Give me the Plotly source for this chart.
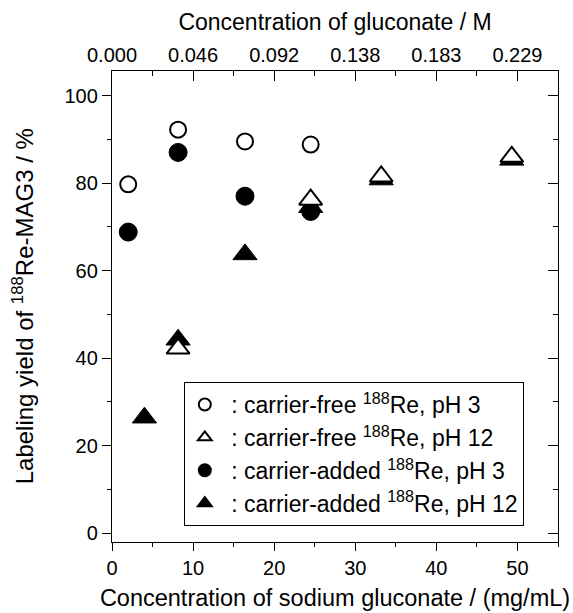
import plotly.graph_objects as go

# Data (sodium gluconate mg/mL vs labeling yield %)
cf_ph3_x = [2.0, 8.15, 16.4, 24.5]
cf_ph3_y = [79.7, 92.2, 89.5, 88.8]

cf_ph12_x = [8.15, 24.5, 33.2, 49.3]
cf_ph12_y = [42.2, 76.2, 81.5, 86.0]

ca_ph3_x = [2.0, 8.15, 16.4, 24.5]
ca_ph3_y = [68.8, 87.0, 77.0, 73.5]

ca_ph12_x = [4.0, 8.15, 16.4, 24.5, 33.2, 49.3]
ca_ph12_y = [26.4, 44.2, 63.7, 74.5, 80.8, 85.3]

top_tick_pos = [0, 10, 20, 30, 40, 50]
top_tick_text = ["0.000", "0.046", "0.092", "0.138", "0.183", "0.229"]

FONT = "Liberation Sans, Arial, sans-serif"
SUP = "<sup>188</sup>"

fig = go.Figure()

# drawing order: filled triangles, filled circles, open circles, open triangles
fig.add_trace(go.Scatter(
    x=ca_ph12_x, y=ca_ph12_y, mode="markers",
    name=f" : carrier-added {SUP}Re, pH 12", legendrank=4, legendgroup="d",
    marker=dict(symbol="triangle-up", size=21, color="black",
                line=dict(color="black", width=1))))
fig.add_trace(go.Scatter(
    x=ca_ph3_x, y=ca_ph3_y, mode="markers",
    name=f" : carrier-added {SUP}Re, pH 3", legendrank=3, legendgroup="c",
    marker=dict(symbol="circle", size=18, color="black",
                line=dict(color="black", width=1))))
fig.add_trace(go.Scatter(
    x=cf_ph3_x, y=cf_ph3_y, mode="markers",
    name=f" : carrier-free {SUP}Re, pH 3", legendrank=1, legendgroup="a",
    marker=dict(symbol="circle", size=16, color="white",
                line=dict(color="black", width=2))))
fig.add_trace(go.Scatter(
    x=cf_ph12_x, y=cf_ph12_y, mode="markers",
    name=f" : carrier-free {SUP}Re, pH 12", legendrank=2, legendgroup="b",
    marker=dict(symbol="triangle-up", size=20, color="white",
                line=dict(color="black", width=2))))

# dummy trace for secondary axes
fig.add_trace(go.Scatter(x=[None], y=[None], xaxis="x2", yaxis="y2",
                         showlegend=False, hoverinfo="skip"))

XR = [0, 55]
YR = [-2, 105.6]

fig.update_layout(
    width=573, height=613,
    margin=dict(l=112, r=15, t=71, b=71, autoexpand=False),
    paper_bgcolor="white", plot_bgcolor="white",
    font=dict(family=FONT, size=21, color="black"),
    showlegend=True,
    legend=dict(
        x=0.161, y=0.034, xanchor="left", yanchor="bottom",
        bordercolor="black", borderwidth=1, bgcolor="white",
        font=dict(family=FONT, size=23, color="black"),
        itemsizing="constant", traceorder="grouped", tracegroupgap=0,
    ),
    xaxis=dict(
        range=XR, dtick=10, tick0=0, showgrid=False, zeroline=False,
        showline=True, linecolor="black", linewidth=1.3, automargin=False,
        ticks="outside", ticklen=8, tickwidth=1.3, tickcolor="black",
        minor=dict(dtick=5, ticks="outside", ticklen=4, tickwidth=1.3, tickcolor="black"),
        tickfont=dict(size=20),
        title=dict(text="Concentration of sodium gluconate / (mg/mL)",
                   font=dict(size=23.5), standoff=11),
    ),
    yaxis=dict(
        range=YR, dtick=20, tick0=0, showgrid=False, zeroline=False,
        showline=True, linecolor="black", linewidth=1.3, automargin=False,
        ticks="outside", ticklen=9, tickwidth=1.3, tickcolor="black",
        minor=dict(dtick=10, ticks="outside", ticklen=4, tickwidth=1.3, tickcolor="black"),
        tickfont=dict(size=20),
    ),
    xaxis2=dict(
        overlaying="x", side="top", anchor="y", range=XR, automargin=False,
        tickmode="array", tickvals=top_tick_pos, ticktext=top_tick_text,
        showgrid=False, zeroline=False, showline=True, linecolor="black", linewidth=1.3,
        ticks="inside", ticklen=10, tickwidth=1.3, tickcolor="black",
        minor=dict(dtick=5, tick0=0, ticks="inside", ticklen=5, tickwidth=1.3, tickcolor="black"),
        tickfont=dict(size=20), ticklabelstandoff=0,
        title=dict(text="Concentration of gluconate / M", font=dict(size=23), standoff=6),
    ),
    yaxis2=dict(
        overlaying="y", side="right", anchor="x", range=YR, dtick=20, tick0=0,
        automargin=False,
        showgrid=False, zeroline=False, showline=True, linecolor="black", linewidth=1.3,
        ticks="inside", ticklen=10, tickwidth=1.3, tickcolor="black",
        minor=dict(dtick=10, ticks="inside", ticklen=5, tickwidth=1.3, tickcolor="black"),
        showticklabels=False,
    ),
    annotations=[dict(
        text=f"Labeling yield of {SUP}Re-MAG3 / %",
        xref="paper", yref="paper", x=-0.2, y=0.5,
        xanchor="center", yanchor="middle", textangle=-90, showarrow=False,
        font=dict(family=FONT, size=24, color="black"),
    )],
)

fig.write_html("out.html")
